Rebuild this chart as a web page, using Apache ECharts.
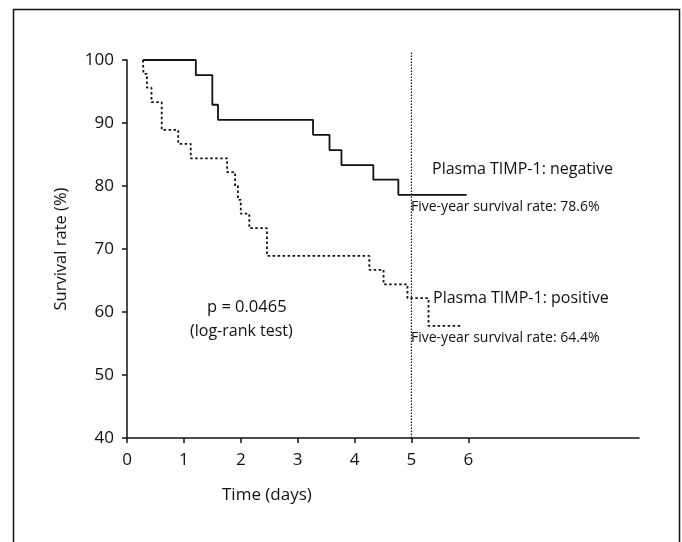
<!DOCTYPE html>
<html>
<head>
<meta charset="utf-8">
<script src="https://cdn.jsdelivr.net/npm/echarts@6/dist/echarts.min.js"></script>
<style>
  html, body { margin: 0; padding: 0; background: #fff; }
  #chart { width: 682px; height: 542px; }
</style>
</head>
<body>
<div id="chart"></div>
<script>
// Kaplan-Meier steps: [time, survival % after the event]
var negativeSteps = [
  [0.28, 100], [1.21, 97.6], [1.50, 92.9], [1.60, 90.5], [3.27, 88.1],
  [3.56, 85.7], [3.77, 83.3], [4.33, 81.0], [4.77, 78.6], [5.97, 78.6]
];
var positiveSteps = [
  [0.28, 100], [0.29, 97.8], [0.35, 95.6], [0.43, 93.3], [0.61, 88.9],
  [0.90, 86.7], [1.12, 84.4], [1.76, 82.2], [1.90, 80.0], [1.95, 77.8],
  [2.00, 75.6], [2.15, 73.3], [2.46, 68.9], [4.26, 66.7], [4.51, 64.4],
  [4.93, 62.2], [5.30, 57.8], [5.86, 57.8]
];
var fiveYearLine = [[5, 40], [5, 101.3]];
var xTickValues = [0, 1, 2, 3, 4, 5, 6];
var yTickValues = [40, 50, 60, 70, 80, 90, 100];

var font = '"Open Sans", "DejaVu Sans", sans-serif';
var ink = '#111';

function label(text, x, y, size) {
  return {
    type: 'text', left: x, top: y,
    style: { text: text, fill: ink, font: size + 'px ' + font }
  };
}

var chart = echarts.init(document.getElementById('chart'));
chart.setOption({
  animation: false,
  grid: { left: 127, right: 43, top: 60, bottom: 104 },
  xAxis: {
    type: 'value', min: 0, max: 9, interval: 1,
    splitLine: { show: false },
    axisLine: { lineStyle: { color: ink, width: 1.5 } },
    axisTick: { show: true, length: 5, customValues: xTickValues, lineStyle: { color: ink, width: 1.5 } },
    axisLabel: { customValues: xTickValues, color: ink, fontFamily: font, fontSize: 17, margin: 14 }
  },
  yAxis: {
    type: 'value', min: 40, max: 100, interval: 10,
    name: 'Survival rate (%)', nameLocation: 'middle', nameGap: 57,
    nameTextStyle: { color: ink, fontFamily: font, fontSize: 16.5 },
    splitLine: { show: false },
    axisLine: { show: true, lineStyle: { color: ink, width: 1.5 } },
    axisTick: { show: true, length: 5, customValues: yTickValues, lineStyle: { color: ink, width: 1.5 } },
    axisLabel: { customValues: yTickValues, color: ink, fontFamily: font, fontSize: 17, margin: 13 }
  },
  series: [
    {
      name: 'negative', type: 'line', step: 'end', data: negativeSteps,
      showSymbol: false, lineStyle: { color: ink, width: 1.8 }
    },
    {
      name: 'positive', type: 'line', step: 'end', data: positiveSteps,
      showSymbol: false, lineStyle: { color: ink, width: 1.8, type: [2.5, 2.5] }
    },
    {
      name: 'five-year', type: 'line', data: fiveYearLine, clip: false,
      showSymbol: false, lineStyle: { color: ink, width: 1.2, type: [1.5, 1.5] }
    }
  ],
  graphic: [
    {
      type: 'rect', left: 11, top: 7,
      shape: { width: 666, height: 545 },
      style: { fill: 'none', stroke: ink, lineWidth: 1.5 }
    },
    label('Time (days)', 222, 487, 17),
    label('p = 0.0465', 207, 299, 16.5),
    label('(log-rank test)', 190, 323, 16),
    label('Plasma TIMP-1: negative', 432, 161, 16),
    label('Five-year survival rate: 78.6%', 411, 200, 14),
    label('Plasma TIMP-1: positive', 433, 290, 16),
    label('Five-year survival rate: 64.4%', 411, 331, 14)
  ]
});
</script>
</body>
</html>
